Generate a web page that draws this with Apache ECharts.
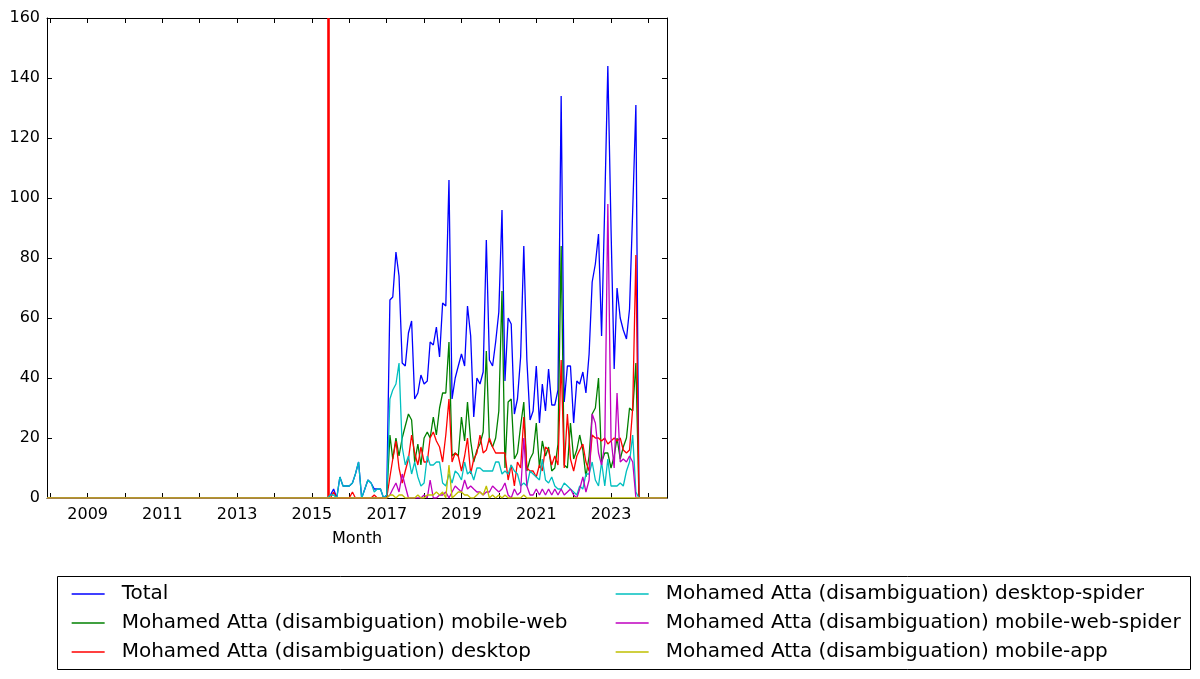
<!DOCTYPE html>
<html><head><meta charset="utf-8">
<script src="https://cdn.jsdelivr.net/npm/echarts@6/dist/echarts.min.js"></script>
<style>html,body{margin:0;padding:0;background:#fff}#c{width:1200px;height:679px}</style>
</head><body><div id="c"></div>
<script>
// monthly values from 2015-06 to 2023-10
const startYear = 2015, startMonth = 6, nMonths = 101;
const seriesNames = [
  'Total',
  'Mohamed Atta (disambiguation) mobile-web',
  'Mohamed Atta (disambiguation) desktop',
  'Mohamed Atta (disambiguation) desktop-spider',
  'Mohamed Atta (disambiguation) mobile-web-spider',
  'Mohamed Atta (disambiguation) mobile-app'
];
const total = [
  0,1,3,0,7,4,4,
  4,5,8,12,0,3,6,5,3,3,3,0,
  1,66,67,82,74,45,44,55,59,33,35,41,
  38,39,52,51,57,47,65,64,106,33,40,44,
  48,44,64,54,27,40,38,42,86,46,44,52,
  62,96,39,60,58,28,33,47,84,46,26,29,
  44,25,38,29,43,31,31,36,134,32,44,44,
  25,39,38,42,35,48,72,78,88,54,98,144,
  90,43,70,60,56,53,63,96,131,0
];
const mobileWeb = [
  0,0,0,0,0,0,0,
  0,0,0,0,0,0,0,0,0,0,0,0,
  0,21,13,20,14,20,24,28,26,12,18,11,
  20,22,20,27,21,30,35,35,52,14,15,14,
  27,19,32,19,12,16,18,22,49,19,17,20,
  29,69,10,32,33,13,15,24,32,9,13,15,
  25,10,19,14,17,9,10,18,84,11,10,25,
  13,16,21,16,7,14,28,30,40,12,15,15,
  10,14,20,13,17,20,30,29,45,0
];
const desktop = [
  0,0,2,0,0,0,0,
  0,2,0,0,0,0,0,0,1,0,0,0,
  0,7,13,19,10,5,9,13,21,15,11,17,
  12,12,20,22,19,17,12,21,33,12,15,14,
  9,14,20,8,13,15,21,15,16,20,17,15,
  15,15,15,6,11,4,12,10,27,10,9,9,
  7,11,9,17,16,11,14,11,46,10,28,13,
  9,14,16,18,12,9,21,20,20,19,20,18,
  19,20,19,20,16,15,16,30,81,0
];
const desktopSpider = [
  0,1,1,0,7,4,4,
  4,5,8,12,0,3,6,5,2,3,3,0,
  1,33,36,38,45,17,11,14,8,12,7,4,
  5,14,11,11,12,12,5,4,8,5,9,8,
  6,12,8,9,6,10,10,9,9,9,9,12,
  12,8,9,8,11,9,8,4,5,4,9,8,
  7,6,13,6,5,7,4,3,3,5,4,3,
  2,1,4,3,8,8,12,6,4,12,4,13,
  4,4,4,5,4,9,12,21,2,0
];
const mobileWebSpider = [
  0,0,0,0,0,0,0,
  0,0,0,0,0,0,0,0,0,0,0,0,
  0,1,3,5,2,8,4,0,0,0,0,0,
  1,0,6,0,0,1,1,2,0,2,4,3,
  2,6,3,4,3,2,2,1,2,2,4,3,
  2,3,5,1,0,3,1,2,20,4,1,1,
  3,1,3,1,3,1,3,1,3,1,2,3,
  1,0,3,7,2,6,28,25,15,11,18,98,
  20,10,35,12,13,12,14,12,0,0
];
const mobileApp = [
  0,0,0,0,0,0,0,
  0,0,0,0,0,0,0,0,0,0,0,0,
  0,1,1,0,1,1,0,0,0,0,1,0,
  0,1,1,1,2,1,2,0,11,0,1,2,
  2,1,1,0,0,1,2,1,4,0,1,0,
  1,0,1,0,0,0,0,0,1,0,0,0,
  0,0,0,0,0,0,0,0,0,0,0,0,
  0,0,0,0,0,0,0,0,0,0,0,0,
  0,0,0,0,0,0,0,0,0,0
];
const axisStart = [2007, 12], axisEnd = [2024, 7];
const markerDate = [2015, 6, 5];
const labelYears = [2009,2011,2013,2015,2017,2019,2021,2023];
const tickYears = [2008,2009,2010,2011,2012,2013,2014,2015,2016,2017,2018,2019,2020,2021,2022,2023,2024];
const colors = ['#0000ff','#008000','#ff0000','#00bfbf','#bf00bf','#bfbf00'];

const ts = (y, m, d) => +new Date(y, (m || 1) - 1, d || 1);
const xMin = ts(axisStart[0], axisStart[1]), xMax = ts(axisEnd[0], axisEnd[1]);
const months = [];
for (let i = 0; i < nMonths; i++) {
  const y = startYear + Math.floor((startMonth - 1 + i) / 12);
  const m = (startMonth - 1 + i) % 12 + 1;
  months.push(ts(y, m));
}
function build(vals) {
  const d = [[xMin, 0]];
  vals.forEach((v, i) => d.push([months[i], v]));
  d.push([xMax, 0]);
  return d;
}
const allVals = [total, mobileWeb, desktop, desktopSpider, mobileWebSpider, mobileApp];
const font = 'DejaVu Sans';
const series = allVals.map((vals, i) => ({
  name: seriesNames[i], type: 'line', data: build(vals), symbol: 'none', showSymbol: false,
  lineStyle: {width: 1.3, color: colors[i]}, itemStyle: {color: colors[i]},
  animation: false, z: 2 + i, xAxisIndex: 0, yAxisIndex: 0
}));
series[2].markLine = {
  symbol: 'none', silent: true, animation: false, label: {show: false},
  lineStyle: {color: '#ff0000', width: 2.6, type: 'solid'},
  data: [{xAxis: ts(markerDate[0], markerDate[1], markerDate[2])}]
};
const yearTs = ys => ys.map(y => ts(y, 1));
const legendBase = {
  orient: 'vertical', top: 584, padding: 0,
  itemWidth: 33, itemHeight: 20, itemGap: 9, selectedMode: false,
  itemStyle: {opacity: 0},
  lineStyle: {width: 1.3},
  textStyle: {fontFamily: font, fontSize: 20, color: '#000', padding: [0, 0, 0, 12]}
};
const chart = echarts.init(document.getElementById('c'), null, {renderer: 'canvas'});
chart.setOption({
  backgroundColor: '#fff',
  animation: false,
  textStyle: {fontFamily: font},
  grid: {left: 47, top: 18, width: 620, height: 480, containLabel: false},
  xAxis: [{
    type: 'value', min: xMin, max: xMax, position: 'bottom',
    name: 'Month', nameLocation: 'middle', nameGap: 33,
    nameTextStyle: {fontFamily: font, fontSize: 16, color: '#000'},
    axisLine: {show: true, onZero: false, lineStyle: {color: '#000', width: 1}},
    axisTick: {show: true, inside: true, length: 5, lineStyle: {color: '#000'}, customValues: yearTs(tickYears)},
    axisLabel: {show: true, fontFamily: font, fontSize: 16, color: '#000', margin: 9,
      customValues: yearTs(labelYears), formatter: v => String(new Date(v).getFullYear())},
    splitLine: {show: false}
  }, {
    type: 'value', min: xMin, max: xMax, position: 'top',
    axisLine: {show: true, onZero: false, lineStyle: {color: '#000', width: 1}},
    axisTick: {show: true, inside: true, length: 5, lineStyle: {color: '#000'}, customValues: yearTs(tickYears)},
    axisLabel: {show: false}, splitLine: {show: false}
  }],
  yAxis: [{
    type: 'value', min: 0, max: 160, interval: 20, position: 'left',
    axisLine: {show: true, onZero: false, lineStyle: {color: '#000', width: 1}},
    axisTick: {show: true, inside: true, length: 5, lineStyle: {color: '#000'}},
    axisLabel: {fontFamily: font, fontSize: 16, color: '#000', margin: 7},
    splitLine: {show: false}
  }, {
    type: 'value', min: 0, max: 160, interval: 20, position: 'right',
    axisLine: {show: true, onZero: false, lineStyle: {color: '#000', width: 1}},
    axisTick: {show: true, inside: true, length: 5, lineStyle: {color: '#000'}},
    axisLabel: {show: false}, splitLine: {show: false}
  }],
  legend: [
    Object.assign({}, legendBase, {data: seriesNames.slice(0, 3), left: 71}),
    Object.assign({}, legendBase, {data: seriesNames.slice(3), left: 615})
  ],
  graphic: [{
    type: 'rect', left: 57, top: 576, z: -1, silent: true,
    shape: {width: 1133, height: 93},
    style: {fill: '#fff', stroke: '#000', lineWidth: 1}
  }],
  series: series
});
</script></body></html>
